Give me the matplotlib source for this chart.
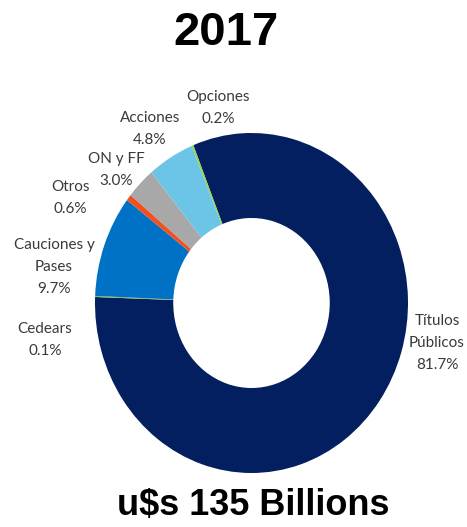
import matplotlib.pyplot as plt

# datos composicion 2017
labels = ['Títulos\nPúblicos', 'Cedears', 'Cauciones y\nPases', 'Otros', 'ON y FF', 'Acciones', 'Opciones']
values = [81.7, 0.1, 9.7, 0.6, 3.0, 4.8, 0.2]
colors = ['#031f5f', '#7fbf5a', '#0072c6', '#f2501e', '#a8a8a8', '#6cc5e6', '#8fcf5a']
# posicion de cada etiqueta (pixeles desde arriba-izquierda)
label_xy = [(437, 343), (45, 340), (54, 267), (70, 198), (116, 170), (150, 129), (218, 108)]

W, H = 467, 527
fig = plt.figure(figsize=(W / 100, H / 100), dpi=100)
ax = fig.add_axes([95 / W, 54 / H, 313 / W, 340 / H])
ax.pie(values, colors=colors, startangle=111.8, counterclock=False,
       wedgeprops=dict(width=0.5, linewidth=0))
ax.set_aspect('auto')
ax.set_xlim(-1, 1)
ax.set_ylim(-1, 1)
ax.axis('off')

for lab, v, (x, y) in zip(labels, values, label_xy):
    fig.text(x / W, 1 - y / H, f'{lab}\n{v:.1f}%', ha='center', va='center',
             fontsize=11, family='Lato', color='#3a3a3a', linespacing=1.75)

fig.text(226 / W, 1 - 33 / H, '2017', ha='center', va='center', fontsize=34,
         fontweight='bold', family='Liberation Sans', color='black')
fig.text(253 / W, 1 - 505 / H, 'u$s 135 Billions', ha='center', va='center', fontsize=26,
         fontweight='bold', family='Liberation Sans', color='black')

fig.savefig('out.png', dpi=100)
